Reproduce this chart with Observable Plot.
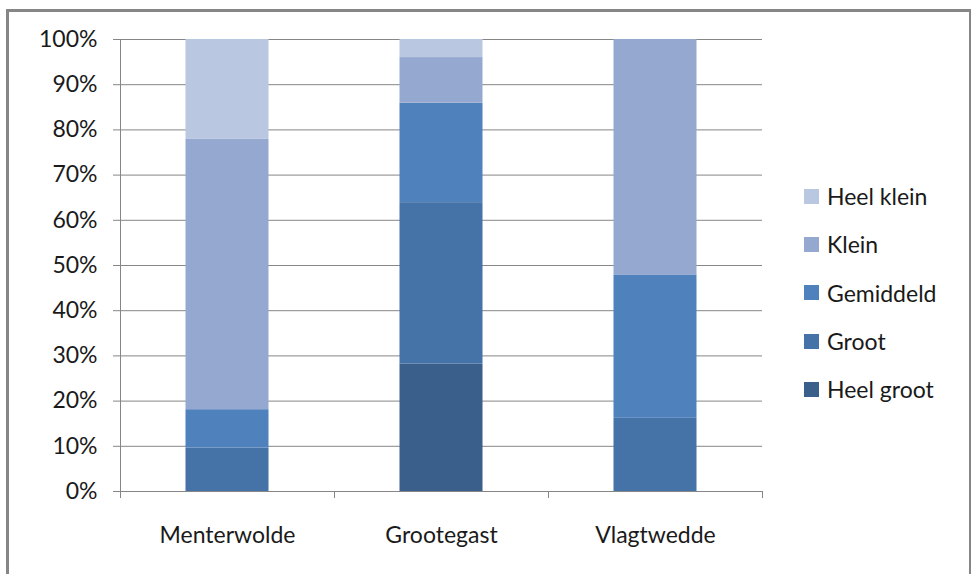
<!DOCTYPE html>
<html>
<head>
<meta charset="utf-8">
<script src="https://cdn.jsdelivr.net/npm/d3@7"></script>
<script src="https://cdn.jsdelivr.net/npm/@observablehq/plot@0.6"></script>
<style>
  html, body { margin: 0; padding: 0; background: #fff; }
  #wrap { position: relative; width: 971px; height: 574px; overflow: hidden; font-family: Lato, "Open Sans", sans-serif; }
  #border { position: absolute; left: 6px; top: 9px; width: 960px; height: 580px;
            border-left: 3px solid #868686; border-top: 3px solid #868686; border-right: 2px solid #868686; }
  #chart { position: absolute; left: 0; top: 0; }
  #legend { position: absolute; left: 804px; top: 172px; }
  .item { display: flex; align-items: center; height: 48.3px; font-size: 23px; color: #1a1a1a; }
  .sw { width: 15px; height: 15px; margin-right: 8px; }
</style>
</head>
<body>
<div id="wrap">
  <div id="border"></div>
  <div id="chart"></div>
  <div id="legend"></div>
</div>
<script>
const municipalities = ["Menterwolde", "Grootegast", "Vlagtwedde"];
const sizes = ["Heel groot", "Groot", "Gemiddeld", "Klein", "Heel klein"];
const sizeColors = ["#3A5F8B", "#4573A7", "#4F81BD", "#95A9D0", "#BAC7E0"];
const heelGroot = [0, 28.2, 0];
const groot = [9.6, 35.7, 16.2];
const gemiddeld = [8.5, 22.0, 31.6];
const klein = [59.8, 10.1, 52.2];
const heelKlein = [22.1, 4.0, 0];
const yTicks = [0, 10, 20, 30, 40, 50, 60, 70, 80, 90, 100];

const series = [heelGroot, groot, gemiddeld, klein, heelKlein];
const data = [];
municipalities.forEach((m, i) => {
  sizes.forEach((s, j) => {
    if (series[j][i] > 0) data.push({m, size: s, v: series[j][i]});
  });
});

const W = 971, H = 574, ML = 120, MR = 209, MT = 39, MB = 83;
const step = (W - ML - MR) / municipalities.length;
const barW = 83;
const inset = (step - barW) / 2;
const grey = "#868686";

const chart = Plot.plot({
  width: W, height: H,
  marginLeft: ML, marginRight: MR, marginTop: MT, marginBottom: MB,
  style: {fontFamily: "Lato, 'Open Sans', sans-serif", fontSize: "23px", color: "#1a1a1a", background: "transparent"},
  x: {domain: municipalities, padding: 0, axis: null, label: null},
  y: {domain: [0, 100], axis: null, label: null},
  color: {domain: sizes, range: sizeColors},
  marks: [
    Plot.ruleY(yTicks, {y: d => d, stroke: grey, strokeOpacity: 1, insetLeft: -7}),
    Plot.barY(data, {x: "m", y: "v", fill: "size", order: sizes, insetLeft: inset, insetRight: inset}),
    Plot.ruleX([municipalities[0]], {x: d => d, dx: -step / 2, y1: 100, y2: 0, stroke: grey, strokeOpacity: 1}),
    Plot.ruleX(municipalities, {x: d => d, dx: -step / 2, y1: 0, y2: 0, insetBottom: -7, stroke: grey, strokeOpacity: 1}),
    Plot.ruleX([municipalities[municipalities.length - 1]], {x: d => d, dx: step / 2, y1: 0, y2: 0, insetBottom: -7, stroke: grey, strokeOpacity: 1}),
    Plot.axisY(yTicks, {tickSize: 0, tickPadding: 23, tickFormat: d => d + "%", fontSize: 23, fill: "#1a1a1a", label: null}),
    Plot.axisX(municipalities, {tickSize: 0, tickPadding: 35, fontSize: 23, fill: "#1a1a1a", label: null})
  ]
});
document.getElementById("chart").appendChild(chart);

const legend = document.getElementById("legend");
const color = chart.scale("color");
[...sizes].reverse().forEach(s => {
  const row = document.createElement("div");
  row.className = "item";
  const sw = document.createElement("div");
  sw.className = "sw";
  sw.style.background = color.apply(s);
  const t = document.createElement("span");
  t.textContent = s;
  row.appendChild(sw);
  row.appendChild(t);
  legend.appendChild(row);
});
</script>
</body>
</html>
